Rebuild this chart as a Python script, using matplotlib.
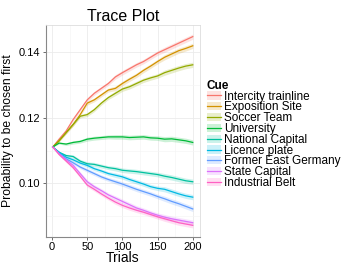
import matplotlib
matplotlib.use('Agg')
import matplotlib.pyplot as plt
from matplotlib.lines import Line2D
from matplotlib.patches import Patch
import numpy as np

plt.rcParams['font.family'] = ['Liberation Sans', 'DejaVu Sans']

trials = [1, 10, 20, 30, 40, 50, 60, 70, 80, 90, 100, 110, 120, 130, 140, 150, 160, 170, 180, 190, 200]

cues = ['Intercity trainline', 'Exposition Site', 'Soccer Team', 'University',
        'National Capital', 'Licence plate', 'Former East Germany',
        'State Capital', 'Industrial Belt']
colors = ['#F8766D', '#D39200', '#93AA00', '#00BA38', '#00C19F',
          '#00B9E3', '#619CFF', '#DB72FB', '#FF61C3']

intercity = [0.1111, 0.1135, 0.1160, 0.1195, 0.1225, 0.1255, 0.1275, 0.1290, 0.1305, 0.1325, 0.1338,
             0.1350, 0.1362, 0.1372, 0.1385, 0.1398, 0.1408, 0.1418, 0.1428, 0.1438, 0.1448]
exposition = [0.1111, 0.1130, 0.1155, 0.1180, 0.1210, 0.1245, 0.1255, 0.1270, 0.1285, 0.1290, 0.1305,
              0.1318, 0.1330, 0.1345, 0.1358, 0.1372, 0.1385, 0.1395, 0.1405, 0.1412, 0.1420]
soccer = [0.1111, 0.1130, 0.1155, 0.1180, 0.1205, 0.1210, 0.1225, 0.1245, 0.1262, 0.1275, 0.1288,
          0.1295, 0.1305, 0.1315, 0.1322, 0.1328, 0.1338, 0.1345, 0.1352, 0.1358, 0.1362]
university = [0.1111, 0.1123, 0.1120, 0.1125, 0.1128, 0.1135, 0.1138, 0.1140, 0.1142, 0.1142, 0.1142,
              0.1140, 0.1141, 0.1142, 0.1139, 0.1138, 0.1135, 0.1136, 0.1133, 0.1130, 0.1125]
national = [0.1111, 0.1095, 0.1085, 0.1082, 0.1068, 0.1060, 0.1058, 0.1053, 0.1048, 0.1045, 0.1040,
            0.1038, 0.1036, 0.1033, 0.1030, 0.1027, 0.1022, 0.1018, 0.1013, 0.1008, 0.1005]
licence = [0.1111, 0.1095, 0.1080, 0.1072, 0.1062, 0.1055, 0.1045, 0.1038, 0.1030, 0.1025, 0.1020,
           0.1012, 0.1005, 0.0998, 0.0990, 0.0985, 0.0982, 0.0975, 0.0968, 0.0962, 0.0958]
east_germany = [0.1111, 0.1092, 0.1075, 0.1063, 0.1050, 0.1040, 0.1030, 0.1020, 0.1012, 0.1005, 0.0998,
                0.0990, 0.0982, 0.0975, 0.0968, 0.0960, 0.0953, 0.0945, 0.0938, 0.0930, 0.0922]
state_capital = [0.1111, 0.1090, 0.1072, 0.1055, 0.1030, 0.1005, 0.0990, 0.0978, 0.0965, 0.0955, 0.0945,
                 0.0935, 0.0925, 0.0918, 0.0910, 0.0903, 0.0897, 0.0892, 0.0888, 0.0884, 0.0880]
industrial = [0.1111, 0.1088, 0.1068, 0.1048, 0.1022, 0.0995, 0.0982, 0.0968, 0.0955, 0.0943, 0.0933,
              0.0925, 0.0918, 0.0912, 0.0905, 0.0898, 0.0892, 0.0886, 0.0880, 0.0876, 0.0872]

# half width of the shaded band around each trace
band = [0.0000, 0.0003, 0.0004, 0.0005, 0.0005, 0.0006, 0.0006, 0.0006, 0.0006, 0.0007, 0.0007,
        0.0007, 0.0007, 0.0007, 0.0007, 0.0007, 0.0008, 0.0008, 0.0008, 0.0008, 0.0008]

series = [intercity, exposition, soccer, university, national, licence,
          east_germany, state_capital, industrial]

fig = plt.figure(figsize=(3.6, 2.7), dpi=100)
ax = fig.add_axes([0.127, 0.123, 0.428, 0.785])

x = np.array(trials)
b = np.array(band)
handles = []
for name, vals, c in zip(cues, series, colors):
    v = np.array(vals)
    ax.fill_between(x, v - b, v + b, color=c, alpha=0.2, lw=0)
    ax.plot(x, v, color=c, lw=0.9)
    handles.append((Patch(facecolor=c, alpha=0.2, edgecolor='none'),
                    Line2D([], [], color=c, lw=0.9)))

ax.set_xlim(-9, 210)
ax.set_ylim(0.0837, 0.1484)
ax.set_xticks([0, 50, 100, 150, 200])
ax.set_xticks([25, 75, 125, 175], minor=True)
ax.set_yticks([0.10, 0.12, 0.14])
ax.set_yticklabels(['0.10', '0.12', '0.14'])
ax.set_yticks([0.09, 0.11, 0.13], minor=True)
ax.grid(True, which='major', color='#EBEBEB', lw=0.6)
ax.grid(True, which='minor', color='#F5F5F5', lw=0.5)
ax.set_axisbelow(True)
for s in ['top', 'right']:
    ax.spines[s].set_color('#DDDDDD')
    ax.spines[s].set_linewidth(0.6)
for s in ['left', 'bottom']:
    ax.spines[s].set_color('#888888')
    ax.spines[s].set_linewidth(0.8)
ax.tick_params(which='major', length=2.5, width=0.6, color='#555555', labelsize=8, pad=1.5)
ax.tick_params(which='minor', length=0)

ax.set_title('Trace Plot', fontsize=11.5, pad=3)
ax.set_xlabel('Trials', fontsize=10, labelpad=-1)
ax.set_ylabel('Probability to be chosen first', fontsize=8.7, labelpad=3)

leg = ax.legend(handles, cues, title='Cue', loc='upper left', bbox_to_anchor=(0.99, 0.78),
                frameon=False, fontsize=8.5, title_fontsize=8.5, labelspacing=-0.1,
                handlelength=1.2, handletextpad=0.3, borderaxespad=0.3, alignment='left')
leg.get_title().set_fontweight('bold')

fig.savefig('out.png', dpi=100)
